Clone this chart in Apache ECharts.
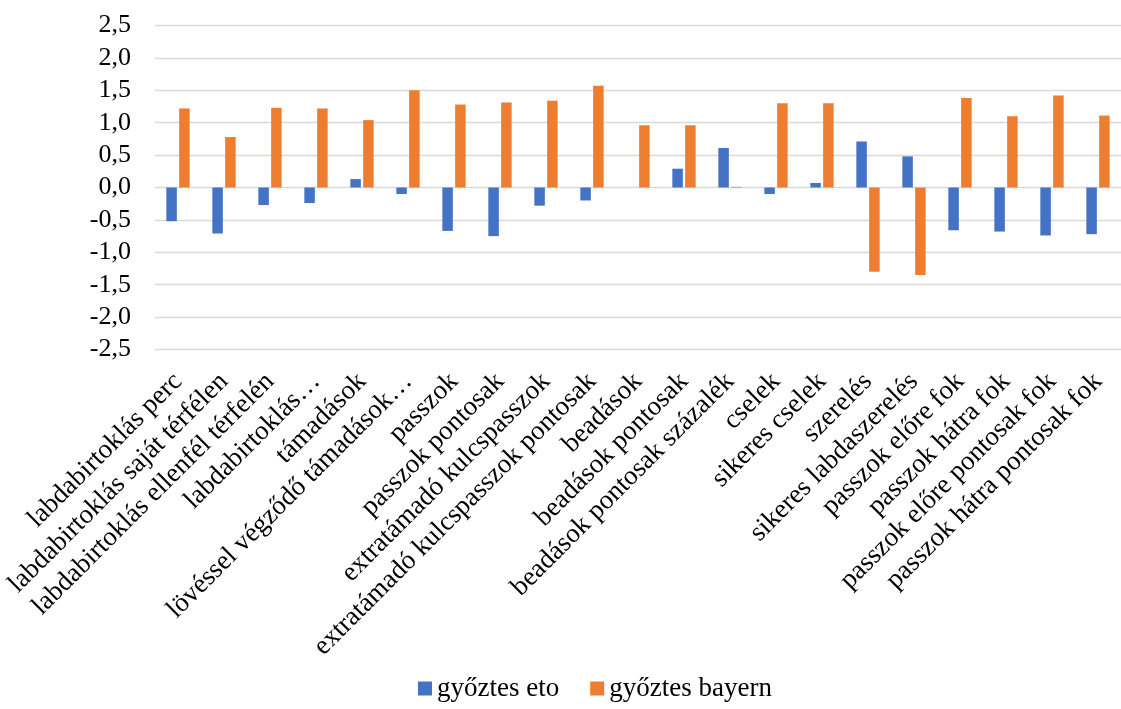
<!DOCTYPE html>
<html>
<head>
<meta charset="utf-8">
<script src="https://cdn.jsdelivr.net/npm/echarts@6/dist/echarts.min.js"></script>
<style>
  html, body { margin: 0; padding: 0; background: #fff; }
  #chart { width: 1121px; height: 709px; }
</style>
</head>
<body>
<div id="chart"></div>
<script>
// kategóriák
var categories = [
  'labdabirtoklás perc',
  'labdabirtoklás saját térfélen',
  'labdabirtoklás ellenfél térfelén',
  'labdabirtoklás…',
  'támadások',
  'lövéssel végződő támadások…',
  'passzok',
  'passzok pontosak',
  'extratámadó kulcspasszok',
  'extratámadó kulcspasszok pontosak',
  'beadások',
  'beadások pontosak',
  'beadások pontosak százalék',
  'cselek',
  'sikeres cselek',
  'szerelés',
  'sikeres labdaszerelés',
  'passzok előre fok',
  'passzok hátra fok',
  'passzok előre pontosak fok',
  'passzok hátra pontosak fok'
]
var seriesNames = ['győztes eto', 'győztes bayern']
var etoValues = [-0.52, -0.71, -0.27, -0.24, 0.13, -0.10, -0.67, -0.75, -0.28, -0.20, 0, 0.29, 0.61, -0.10, 0.07, 0.71, 0.48, -0.66, -0.68, -0.74, -0.72]
var bayernValues = [1.22, 0.78, 1.23, 1.22, 1.04, 1.50, 1.28, 1.31, 1.34, 1.57, 0.96, 0.96, 0.01, 1.30, 1.30, -1.30, -1.35, 1.38, 1.10, 1.42, 1.11]

var font = '"Liberation Serif", "Times New Roman", serif'

var chart = echarts.init(document.getElementById('chart'))
chart.setOption({
  animation: false,
  textStyle: { fontFamily: font },
  // a rajzterület jobbra kilóg a képből, mint az eredetin
  grid: {
    left: 155,
    width: 974,
    top: 25.5,
    bottom: 359.5
  },
  legend: {
    data: seriesNames,
    bottom: 2,
    left: 413,
    itemWidth: 14,
    itemHeight: 14,
    itemGap: 31,
    icon: 'rect',
    textStyle: { fontSize: 27, color: '#000', fontFamily: font }
  },
  xAxis: {
    type: 'category',
    data: categories,
    axisLine: { show: false },
    axisTick: { show: false },
    axisLabel: {
      rotate: 45,
      interval: 0,
      fontSize: 27,
      color: '#000',
      fontFamily: font,
      margin: 28,
      padding: [0, 0, 10, 0]
    }
  },
  yAxis: {
    type: 'value',
    min: -2.5,
    max: 2.5,
    interval: 0.5,
    axisLine: { show: false },
    axisTick: { show: false },
    splitLine: { lineStyle: { color: '#d9d9d9', width: 1.3 } },
    axisLabel: {
      fontSize: 26,
      color: '#000',
      fontFamily: font,
      margin: 24,
      formatter: function (v) { return v.toFixed(1).replace('.', ',') }
    }
  },
  series: [
    {
      name: seriesNames[0],
      type: 'bar',
      barWidth: 10.5,
      barGap: '22%',
      itemStyle: { color: '#4472c4' },
      data: etoValues
    },
    {
      name: seriesNames[1],
      type: 'bar',
      barWidth: 10.5,
      barGap: '22%',
      itemStyle: { color: '#ed7d31' },
      data: bayernValues
    }
  ]
})
</script>
</body>
</html>
